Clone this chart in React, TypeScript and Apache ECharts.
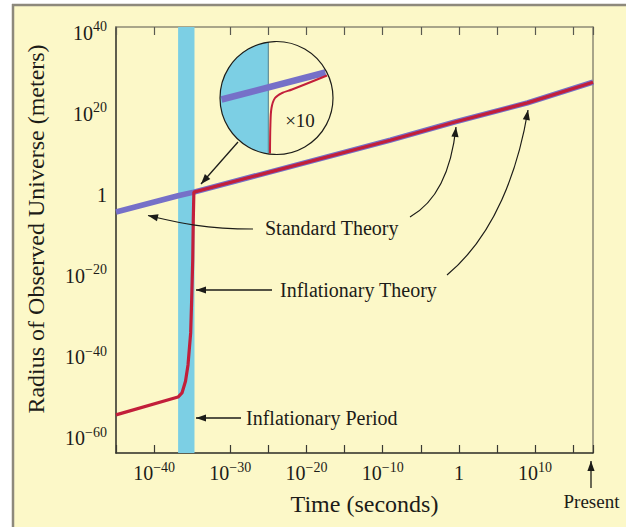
import React, { useEffect, useRef } from "react";
import * as echarts from "echarts";

// log10(time in seconds) and log10(radius in meters)
const TIME_STANDARD = [-45, -36.86, -34.78, -9, -0.5, 9, 17.6];
const RADIUS_STANDARD = [-4.6, -0.6, 0.3, 13.1, 17.6, 22.3, 27.4];

const TIME_INFLATIONARY = [-45, -36.86, -36.34, -35.88, -35.55, -35.2, -35.07, -34.93, -34.86, -34.78, -9, -0.5, 9, 17.6];
const RADIUS_INFLATIONARY = [-54.6, -50.2, -49.2, -46.3, -42.3, -34.4, -26.3, -16.4, -6.6, 0.3, 13.1, 17.6, 22.3, 27.4];

// inflationary period (log10 seconds)
const INFLATION_START = -36.85;
const INFLATION_END = -34.7;

// axis ranges and tick labels (exponents)
const X_MIN = -45;
const X_MAX = 17.6;
const Y_MIN = -64;
const Y_MAX = 41;
const X_LABEL_EXPONENTS = [-40, -30, -20, -10, 0, 10];
const Y_LABEL_EXPONENTS = [-60, -40, -20, 0, 20, 40];

const FONT = '"Liberation Serif", "Times New Roman", serif';
const BG = "#fcf8c8";
const CYAN = "#7ccfe4";
const BLUE = "#7670c8";
const RED = "#c21f3a";
const INK = "#1c1c18";

function expLabel(v: number, allowed: number[]) {
  const r = Math.round(v);
  if (Math.abs(v - r) > 1e-6 || !allowed.includes(r)) return "";
  if (r === 0) return "{b|1}";
  return `{b|10}{s|${r < 0 ? "\u2212" : ""}${Math.abs(r)}}`;
}

const rich = {
  b: { fontFamily: FONT, fontSize: 20, color: INK, lineHeight: 23, verticalAlign: "bottom" },
  s: { fontFamily: FONT, fontSize: 14, color: INK, lineHeight: 12, verticalAlign: "top" },
};

function head(tip: [number, number], from: [number, number], len = 10, half = 3.6) {
  const dx = tip[0] - from[0];
  const dy = tip[1] - from[1];
  const d = Math.hypot(dx, dy) || 1;
  const ux = dx / d, uy = dy / d;
  const bx = tip[0] - ux * len, by = tip[1] - uy * len;
  return {
    type: "polygon",
    z: 100,
    shape: { points: [tip, [bx - uy * half, by + ux * half], [bx + uy * half, by - ux * half]] },
    style: { fill: INK },
  };
}

function straightArrow(from: [number, number], tip: [number, number]) {
  return [
    { type: "line", z: 100, shape: { x1: from[0], y1: from[1], x2: tip[0], y2: tip[1] }, style: { stroke: INK, lineWidth: 1.3 } },
    head(tip, from),
  ];
}

function curvedArrow(p0: [number, number], c1: [number, number], c2: [number, number], tip: [number, number]) {
  return [
    {
      type: "bezierCurve",
      z: 100,
      shape: { x1: p0[0], y1: p0[1], cpx1: c1[0], cpy1: c1[1], cpx2: c2[0], cpy2: c2[1], x2: tip[0], y2: tip[1] },
      style: { stroke: INK, lineWidth: 1.2, fill: null },
    },
    head(tip, c2),
  ];
}

function insetElements() {
  const cx = 276.5, cy = 98, r = 56.5, chordX = 268.3;
  const a0 = Math.acos((chordX - cx) / r);
  const pts: number[][] = [];
  const n = 40;
  for (let i = 0; i <= n; i++) {
    const a = a0 + ((2 * Math.PI - 2 * a0) * i) / n;
    pts.push([cx + r * Math.cos(a), cy + r * Math.sin(a)]);
  }
  const half = Math.sqrt(r * r - (chordX - cx) * (chordX - cx));
  return [
    { type: "circle", z: 90, shape: { cx, cy, r }, style: { fill: BG, stroke: null } },
    { type: "polygon", z: 91, shape: { points: pts }, style: { fill: CYAN } },
    { type: "line", z: 92, shape: { x1: chordX, y1: cy - half, x2: chordX, y2: cy + half }, style: { stroke: "#4f7f8c", lineWidth: 1 } },
    { type: "line", z: 93, shape: { x1: 221.5, y1: 99.5, x2: 325.5, y2: 72.5 }, style: { stroke: BLUE, lineWidth: 6.5, lineCap: "butt" } },
    {
      type: "polyline",
      z: 94,
      shape: { points: [[270, 153.5], [270.4, 125], [271.5, 108], [275, 98], [282, 93], [292, 89.5], [327, 75.5]], smooth: 0.35 },
      style: { stroke: RED, lineWidth: 2, fill: null },
    },
    { type: "circle", z: 95, shape: { cx, cy, r }, style: { fill: null, stroke: "#1e1e1a", lineWidth: 1.2 } },
    { type: "text", z: 96, x: 300, y: 120, style: { text: "\u00d710", font: `19px ${FONT}`, fill: INK, textAlign: "center", textVerticalAlign: "middle" } },
  ];
}

export default function App() {
  const ref = useRef<HTMLDivElement>(null);
  useEffect(() => {
    if (!ref.current) return;
    const chart = echarts.init(ref.current, null, { renderer: "svg" });
    const standard = TIME_STANDARD.map((t, i) => [t, RADIUS_STANDARD[i]]);
    const inflationary = TIME_INFLATIONARY.map((t, i) => [t, RADIUS_INFLATIONARY[i]]);
    const textStyle = (s: string, x: number, y: number, size = 20, align = "left") => ({
      type: "text",
      z: 100,
      x,
      y,
      style: { text: s, font: `${size}px ${FONT}`, fill: INK, textAlign: align, textVerticalAlign: "middle" },
    });
    const option: any = {
      animation: false,
      backgroundColor: "#ffffff",
      grid: { left: 116, top: 27, right: 33, bottom: 74, containLabel: false },
      xAxis: [
        {
          type: "value",
          min: X_MIN,
          max: X_MAX,
          interval: 5,
          position: "bottom",
          name: "Time (seconds)",
          nameLocation: "middle",
          nameGap: 39,
          nameTextStyle: { fontFamily: FONT, fontSize: 24, color: INK, padding: [0, 0, 0, 20] },
          axisLine: { show: true, onZero: false, lineStyle: { color: "#2b2b25", width: 1.5 } },
          axisTick: { show: true, inside: true, length: 8, lineStyle: { color: "#3a3a33", width: 1.2 } },
          axisLabel: { formatter: (v: number) => expLabel(v, X_LABEL_EXPONENTS), rich, margin: 7, showMinLabel: true, showMaxLabel: true },
          splitLine: { show: false },
        },
        {
          type: "value",
          min: X_MIN,
          max: X_MAX,
          interval: 5,
          position: "top",
          axisLine: { show: true, onZero: false, lineStyle: { color: "#8d8a74", width: 1.5 } },
          axisTick: { show: true, inside: true, length: 8, lineStyle: { color: "#5a5a50", width: 1.2 } },
          axisLabel: { show: false },
          splitLine: { show: false },
        },
      ],
      yAxis: [
        {
          type: "value",
          min: Y_MIN,
          max: Y_MAX,
          interval: 4,
          name: "Radius of Observed Universe (meters)",
          nameLocation: "middle",
          nameGap: 68,
          nameTextStyle: { fontFamily: FONT, fontSize: 24, color: INK, padding: [0, 0, 0, 22] },
          axisLine: { show: true, onZero: false, lineStyle: { color: "#2b2b25", width: 1.5 } },
          axisTick: { show: false },
          axisLabel: { formatter: (v: number) => expLabel(v, Y_LABEL_EXPONENTS), rich, margin: 9 },
          splitLine: { show: false },
        },
        {
          type: "value",
          min: Y_MIN,
          max: Y_MAX,
          interval: 4,
          position: "right",
          axisLine: { show: true, onZero: false, lineStyle: { color: "#8d8a74", width: 1.5 } },
          axisTick: { show: false },
          axisLabel: { show: false },
          splitLine: { show: false },
        },
      ],
      series: [
        {
          name: "Standard Theory",
          type: "line",
          data: standard,
          showSymbol: false,
          lineStyle: { color: BLUE, width: 5.5 },
          z: 3,
          markArea: {
            silent: true,
            itemStyle: { color: CYAN, opacity: 1 },
            data: [[{ xAxis: INFLATION_START }, { xAxis: INFLATION_END }]],
          },
        },
        {
          name: "Inflationary Theory",
          type: "line",
          data: inflationary,
          showSymbol: false,
          lineStyle: { color: RED, width: 3.2 },
          z: 4,
        },
      ],
      graphic: [
        { type: "rect", z: -10, shape: { x: 12, y: 4, width: 614, height: 523 }, style: { fill: BG } },
        { type: "line", z: -9, shape: { x1: 12, y1: 5, x2: 626, y2: 5 }, style: { stroke: "#8d897c", lineWidth: 2.5 } },
        { type: "line", z: -9, shape: { x1: 13, y1: 4, x2: 13, y2: 527 }, style: { stroke: "#8d897c", lineWidth: 2.5 } },
        ...insetElements(),
        ...straightArrow([238, 142], [201, 184]),
        ...curvedArrow([253, 229], [200, 229], [172, 221], [148, 215.5]),
        ...curvedArrow([410, 217], [440, 200], [452, 165], [456, 127]),
        ...straightArrow([272, 290], [196, 290]),
        ...curvedArrow([447, 275], [495, 235], [518, 170], [528, 110]),
        ...straightArrow([241, 418], [196, 418]),
        ...straightArrow([591, 488], [591, 461]),
        textStyle("Standard Theory", 265, 228),
        textStyle("Inflationary Theory", 280, 290),
        textStyle("Inflationary Period", 246, 418),
        textStyle("Present", 591.5, 501, 19, "center"),
      ],
    };
    chart.setOption(option);
    return () => chart.dispose();
  }, []);
  return (
    <div style={{ position: "absolute", left: 0, top: 0, width: 626, height: 527, background: "#fff" }}>
      <div ref={ref} style={{ width: 626, height: 527 }} />
    </div>
  );
}
